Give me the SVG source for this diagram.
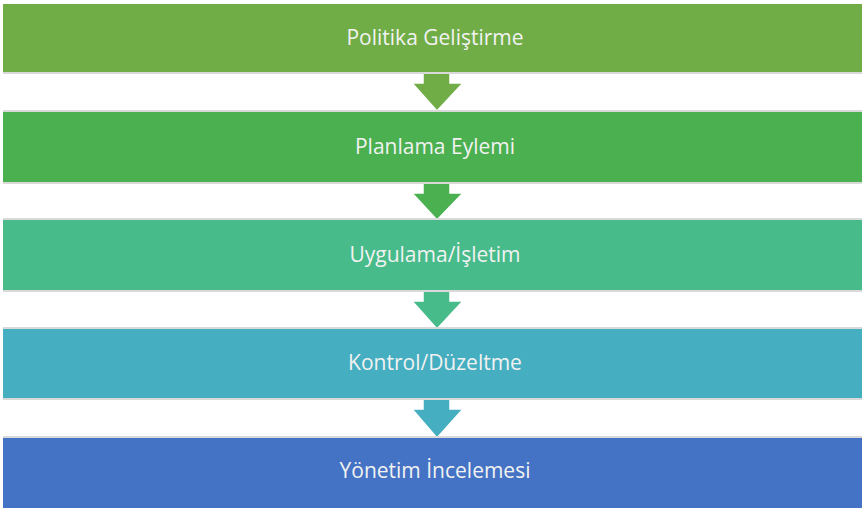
<svg xmlns="http://www.w3.org/2000/svg" width="862" height="512" viewBox="0 0 862 512">
<style>
.lbl{font-family:"Open Sans","Liberation Sans",sans-serif;font-size:21px;fill:#f2f2f2;text-anchor:middle;dominant-baseline:central}
.arr{stroke:#ffffff;stroke-width:1.5;stroke-linejoin:miter}
.sh{fill:#d9d9d9}
</style>
<rect width="862" height="512" fill="#ffffff"/>
<g id="connectors">
<path class="arr" fill="#70AD47" d="M423,66 H450 V83 H463 L437,111 L412,83 H423 Z"/>
<path class="arr" fill="#4AB050" d="M423,176 H450 V193 H463 L437,220 L412,193 H423 Z"/>
<path class="arr" fill="#47BB8A" d="M423,284 H450 V301 H463 L437,329 L412,301 H423 Z"/>
<path class="arr" fill="#45AEC0" d="M423,392 H450 V409 H463 L437,438 L412,409 H423 Z"/>
</g>
<g id="n1">
<rect class="sh" x="3" y="72" width="859" height="2"/>
<rect x="3" y="4" width="859" height="68" fill="#70AD47"/>
<text class="lbl" x="435" y="37">Politika Geliştirme</text>
</g>
<g id="n2">
<rect class="sh" x="3" y="110" width="859" height="2"/>
<rect class="sh" x="3" y="182" width="859" height="2"/>
<rect x="3" y="112" width="859" height="70" fill="#4AB050"/>
<text class="lbl" x="435" y="146">Planlama Eylemi</text>
</g>
<g id="n3">
<rect class="sh" x="3" y="218" width="859" height="2"/>
<rect class="sh" x="3" y="290" width="859" height="2"/>
<rect x="3" y="220" width="859" height="70" fill="#47BB8A"/>
<text class="lbl" x="435" y="254">Uygulama/İşletim</text>
</g>
<g id="n4">
<rect class="sh" x="3" y="327" width="859" height="2"/>
<rect class="sh" x="3" y="398" width="859" height="2"/>
<rect x="3" y="329" width="859" height="69" fill="#45AEC0"/>
<text class="lbl" x="435" y="362">Kontrol/Düzeltme</text>
</g>
<g id="n5">
<rect class="sh" x="3" y="436" width="859" height="2"/>
<rect x="3" y="438" width="859" height="70" fill="#4472C4"/>
<text class="lbl" x="435" y="470">Yönetim İncelemesi</text>
</g>
</svg>
